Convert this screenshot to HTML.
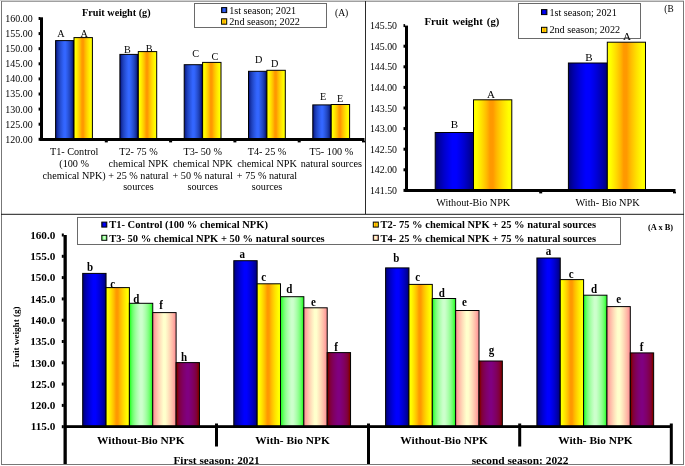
<!DOCTYPE html><html><head><meta charset="utf-8"><style>html,body{margin:0;padding:0;background:#fff;}svg{display:block;will-change:transform;}text{font-family:"Liberation Serif",serif;}</style></head><body>
<svg width="685" height="466" viewBox="0 0 685 466">
<defs><linearGradient id="gAb" x1="0" y1="0" x2="1" y2="0"><stop offset="0.000" stop-color="#081888"/><stop offset="0.030" stop-color="#081888"/><stop offset="0.084" stop-color="#122b9e"/><stop offset="0.138" stop-color="#1a38b0"/><stop offset="0.191" stop-color="#1f43c0"/><stop offset="0.245" stop-color="#244bcf"/><stop offset="0.299" stop-color="#2853dc"/><stop offset="0.353" stop-color="#2c5ae9"/><stop offset="0.406" stop-color="#3060f4"/><stop offset="0.460" stop-color="#3366ff"/><stop offset="0.540" stop-color="#3366ff"/><stop offset="0.594" stop-color="#2f60f2"/><stop offset="0.647" stop-color="#2c59e5"/><stop offset="0.701" stop-color="#2751d6"/><stop offset="0.755" stop-color="#2349c6"/><stop offset="0.809" stop-color="#1d3fb4"/><stop offset="0.863" stop-color="#1633a0"/><stop offset="0.916" stop-color="#0d2387"/><stop offset="0.970" stop-color="#000066"/><stop offset="1.000" stop-color="#000066"/></linearGradient><linearGradient id="gO" x1="0" y1="0" x2="1" y2="0"><stop offset="0.000" stop-color="#ffff00"/><stop offset="0.080" stop-color="#ffff00"/><stop offset="0.124" stop-color="#fff500"/><stop offset="0.167" stop-color="#ffeb00"/><stop offset="0.211" stop-color="#ffe000"/><stop offset="0.255" stop-color="#ffd400"/><stop offset="0.299" stop-color="#ffc700"/><stop offset="0.342" stop-color="#ffba00"/><stop offset="0.386" stop-color="#ffaa00"/><stop offset="0.430" stop-color="#ff9900"/><stop offset="0.510" stop-color="#ff9900"/><stop offset="0.561" stop-color="#ffaa00"/><stop offset="0.613" stop-color="#ffba00"/><stop offset="0.664" stop-color="#ffc700"/><stop offset="0.715" stop-color="#ffd400"/><stop offset="0.766" stop-color="#ffe000"/><stop offset="0.818" stop-color="#ffeb00"/><stop offset="0.869" stop-color="#fff500"/><stop offset="0.920" stop-color="#ffff00"/><stop offset="1.000" stop-color="#ffff00"/></linearGradient><linearGradient id="gB" x1="0" y1="0" x2="1" y2="0"><stop offset="0.000" stop-color="#000080"/><stop offset="0.030" stop-color="#000080"/><stop offset="0.083" stop-color="#000098"/><stop offset="0.135" stop-color="#0000ac"/><stop offset="0.188" stop-color="#0000bd"/><stop offset="0.240" stop-color="#0000cd"/><stop offset="0.292" stop-color="#0000db"/><stop offset="0.345" stop-color="#0000e8"/><stop offset="0.398" stop-color="#0000f4"/><stop offset="0.450" stop-color="#0000ff"/><stop offset="0.550" stop-color="#0000ff"/><stop offset="0.603" stop-color="#0000f4"/><stop offset="0.655" stop-color="#0000e8"/><stop offset="0.708" stop-color="#0000db"/><stop offset="0.760" stop-color="#0000cd"/><stop offset="0.812" stop-color="#0000bd"/><stop offset="0.865" stop-color="#0000ac"/><stop offset="0.917" stop-color="#000098"/><stop offset="0.970" stop-color="#000080"/><stop offset="1.000" stop-color="#000080"/></linearGradient><linearGradient id="gG" x1="0" y1="0" x2="1" y2="0"><stop offset="0.000" stop-color="#33ff33"/><stop offset="0.050" stop-color="#33ff33"/><stop offset="0.101" stop-color="#5bff5b"/><stop offset="0.153" stop-color="#74ff74"/><stop offset="0.204" stop-color="#88ff88"/><stop offset="0.255" stop-color="#99ff99"/><stop offset="0.306" stop-color="#a8ffa8"/><stop offset="0.357" stop-color="#b5ffb5"/><stop offset="0.409" stop-color="#c1ffc1"/><stop offset="0.460" stop-color="#ccffcc"/><stop offset="0.540" stop-color="#ccffcc"/><stop offset="0.591" stop-color="#c1ffc1"/><stop offset="0.643" stop-color="#b5ffb5"/><stop offset="0.694" stop-color="#a8ffa8"/><stop offset="0.745" stop-color="#99ff99"/><stop offset="0.796" stop-color="#88ff88"/><stop offset="0.847" stop-color="#74ff74"/><stop offset="0.899" stop-color="#5bff5b"/><stop offset="0.950" stop-color="#33ff33"/><stop offset="1.000" stop-color="#33ff33"/></linearGradient><linearGradient id="gC" x1="0" y1="0" x2="1" y2="0"><stop offset="0.000" stop-color="#ff9999"/><stop offset="0.050" stop-color="#ff9999"/><stop offset="0.101" stop-color="#ffaaa1"/><stop offset="0.153" stop-color="#ffbaa8"/><stop offset="0.204" stop-color="#ffc7ae"/><stop offset="0.255" stop-color="#ffd4b5"/><stop offset="0.306" stop-color="#ffe0bb"/><stop offset="0.357" stop-color="#ffebc1"/><stop offset="0.409" stop-color="#fff5c7"/><stop offset="0.460" stop-color="#ffffcc"/><stop offset="0.540" stop-color="#ffffcc"/><stop offset="0.591" stop-color="#fff5c7"/><stop offset="0.643" stop-color="#ffebc1"/><stop offset="0.694" stop-color="#ffe0bb"/><stop offset="0.745" stop-color="#ffd4b5"/><stop offset="0.796" stop-color="#ffc7ae"/><stop offset="0.847" stop-color="#ffbaa8"/><stop offset="0.899" stop-color="#ffaaa1"/><stop offset="0.950" stop-color="#ff9999"/><stop offset="1.000" stop-color="#ff9999"/></linearGradient><linearGradient id="gP" x1="0" y1="0" x2="1" y2="0"><stop offset="0.000" stop-color="#800000"/><stop offset="0.050" stop-color="#800000"/><stop offset="0.101" stop-color="#80002e"/><stop offset="0.153" stop-color="#800042"/><stop offset="0.204" stop-color="#800050"/><stop offset="0.255" stop-color="#80005c"/><stop offset="0.306" stop-color="#800067"/><stop offset="0.357" stop-color="#800070"/><stop offset="0.409" stop-color="#800078"/><stop offset="0.460" stop-color="#800080"/><stop offset="0.540" stop-color="#800080"/><stop offset="0.591" stop-color="#800078"/><stop offset="0.643" stop-color="#800070"/><stop offset="0.694" stop-color="#800067"/><stop offset="0.745" stop-color="#80005c"/><stop offset="0.796" stop-color="#800050"/><stop offset="0.847" stop-color="#800042"/><stop offset="0.899" stop-color="#80002e"/><stop offset="0.950" stop-color="#800000"/><stop offset="1.000" stop-color="#800000"/></linearGradient></defs>
<rect x="0" y="0" width="684" height="1" fill="#d0d0d0"/>
<rect x="1" y="1" width="683" height="1" fill="#a0a0a0"/>
<rect x="1" y="1" width="1" height="464" fill="#777"/>
<rect x="683" y="1" width="1" height="464" fill="#777"/>
<rect x="1" y="464" width="683" height="1" fill="#777"/>
<rect x="365" y="1" width="1" height="213" fill="#2a2a2a"/>
<rect x="1" y="213.8" width="683" height="1" fill="#1a1a1a"/>
<rect x="55.6" y="40.6" width="18.4" height="98.9" fill="url(#gAb)" stroke="#000" stroke-width="1"/>
<rect x="74" y="37.6" width="18.4" height="101.9" fill="url(#gO)" stroke="#000" stroke-width="1"/>
<rect x="119.9" y="54.4" width="18.4" height="85.1" fill="url(#gAb)" stroke="#000" stroke-width="1"/>
<rect x="138.3" y="51.6" width="18.4" height="87.9" fill="url(#gO)" stroke="#000" stroke-width="1"/>
<rect x="184.2" y="64.7" width="18.4" height="74.8" fill="url(#gAb)" stroke="#000" stroke-width="1"/>
<rect x="202.6" y="62.4" width="18.4" height="77.1" fill="url(#gO)" stroke="#000" stroke-width="1"/>
<rect x="248.5" y="71.3" width="18.4" height="68.2" fill="url(#gAb)" stroke="#000" stroke-width="1"/>
<rect x="266.9" y="70.3" width="18.4" height="69.2" fill="url(#gO)" stroke="#000" stroke-width="1"/>
<rect x="312.8" y="104.9" width="18.4" height="34.6" fill="url(#gAb)" stroke="#000" stroke-width="1"/>
<rect x="331.2" y="104.5" width="18.4" height="35" fill="url(#gO)" stroke="#000" stroke-width="1"/>
<rect x="40" y="17.3" width="3" height="123.7" fill="#000"/>
<rect x="40" y="138" width="324.5" height="3" fill="#000"/>
<rect x="38.6" y="137.8" width="1.6" height="3" fill="#000"/>
<text x="32.7" y="142.7" font-size="9.95" text-anchor="end">120.00</text>
<rect x="38.6" y="122.7" width="1.6" height="3" fill="#000"/>
<text x="32.7" y="127.6" font-size="9.95" text-anchor="end">125.00</text>
<rect x="38.6" y="107.6" width="1.6" height="3" fill="#000"/>
<text x="32.7" y="112.5" font-size="9.95" text-anchor="end">130.00</text>
<rect x="38.6" y="92.5" width="1.6" height="3" fill="#000"/>
<text x="32.7" y="97.4" font-size="9.95" text-anchor="end">135.00</text>
<rect x="38.6" y="77.4" width="1.6" height="3" fill="#000"/>
<text x="32.7" y="82.3" font-size="9.95" text-anchor="end">140.00</text>
<rect x="38.6" y="62.3" width="1.6" height="3" fill="#000"/>
<text x="32.7" y="67.2" font-size="9.95" text-anchor="end">145.00</text>
<rect x="38.6" y="47.2" width="1.6" height="3" fill="#000"/>
<text x="32.7" y="52.1" font-size="9.95" text-anchor="end">150.00</text>
<rect x="38.6" y="32.1" width="1.6" height="3" fill="#000"/>
<text x="32.7" y="37" font-size="9.95" text-anchor="end">155.00</text>
<rect x="38.6" y="17" width="1.6" height="3" fill="#000"/>
<text x="32.7" y="21.9" font-size="9.95" text-anchor="end">160.00</text>
<rect x="104.8" y="140.8" width="3" height="1.6" fill="#000"/>
<rect x="169.1" y="140.8" width="3" height="1.6" fill="#000"/>
<rect x="233.4" y="140.8" width="3" height="1.6" fill="#000"/>
<rect x="297.7" y="140.8" width="3" height="1.6" fill="#000"/>
<rect x="362" y="140.8" width="3" height="1.6" fill="#000"/>
<text x="60.9" y="36.8" font-size="10.2" text-anchor="middle">A</text>
<text x="84.3" y="36.8" font-size="10.2" text-anchor="middle">A</text>
<text x="127.4" y="52.5" font-size="10.2" text-anchor="middle">B</text>
<text x="149.1" y="51.6" font-size="10.2" text-anchor="middle">B</text>
<text x="195.6" y="57.2" font-size="10.2" text-anchor="middle">C</text>
<text x="214.8" y="60" font-size="10.2" text-anchor="middle">C</text>
<text x="258.7" y="62.7" font-size="10.2" text-anchor="middle">D</text>
<text x="274.8" y="66.8" font-size="10.2" text-anchor="middle">D</text>
<text x="323" y="100.1" font-size="10.2" text-anchor="middle">E</text>
<text x="340" y="102.1" font-size="10.2" text-anchor="middle">E</text>
<text x="74.15" y="155.3" font-size="10.2" text-anchor="middle">T1- Control</text>
<text x="74.15" y="166.9" font-size="10.2" text-anchor="middle">(100 %</text>
<text x="74.15" y="178.5" font-size="10.2" text-anchor="middle">chemical NPK)</text>
<text x="138.45" y="155.3" font-size="10.2" text-anchor="middle">T2- 75 %</text>
<text x="138.45" y="166.9" font-size="10.2" text-anchor="middle">chemical NPK</text>
<text x="138.45" y="178.5" font-size="10.2" text-anchor="middle">+ 25 % natural</text>
<text x="138.45" y="190.1" font-size="10.2" text-anchor="middle">sources</text>
<text x="202.75" y="155.3" font-size="10.2" text-anchor="middle">T3- 50 %</text>
<text x="202.75" y="166.9" font-size="10.2" text-anchor="middle">chemical NPK</text>
<text x="202.75" y="178.5" font-size="10.2" text-anchor="middle">+ 50 % natural</text>
<text x="202.75" y="190.1" font-size="10.2" text-anchor="middle">sources</text>
<text x="267.05" y="155.3" font-size="10.2" text-anchor="middle">T4- 25 %</text>
<text x="267.05" y="166.9" font-size="10.2" text-anchor="middle">chemical NPK</text>
<text x="267.05" y="178.5" font-size="10.2" text-anchor="middle">+ 75 % natural</text>
<text x="267.05" y="190.1" font-size="10.2" text-anchor="middle">sources</text>
<text x="331.35" y="155.3" font-size="10.2" text-anchor="middle">T5- 100 %</text>
<text x="331.35" y="166.9" font-size="10.2" text-anchor="middle">natural sources</text>
<text x="82.1" y="16.3" font-size="10.2" font-weight="bold">Fruit weight (g)</text>
<rect x="194.5" y="3.5" width="132" height="24" fill="#fff" stroke="#6a6a6a" stroke-width="1"/>
<rect x="221.6" y="7.6" width="5.1" height="5" fill="url(#gAb)" stroke="#000" stroke-width="1"/>
<rect x="221.6" y="18.8" width="5.1" height="5.4" fill="url(#gO)" stroke="#000" stroke-width="1"/>
<text x="229.2" y="13.8" font-size="10.15">1st season; 2021</text>
<text x="229.2" y="25" font-size="10.2">2nd season; 2022</text>
<text x="335" y="16" font-size="9.6">(A)</text>
<rect x="435.2" y="132.5" width="38.3" height="58" fill="url(#gB)" stroke="#000" stroke-width="1"/>
<rect x="473.5" y="99.8" width="38.3" height="90.7" fill="url(#gO)" stroke="#000" stroke-width="1"/>
<rect x="568.4" y="63" width="38.9" height="127.5" fill="url(#gB)" stroke="#000" stroke-width="1"/>
<rect x="607.3" y="42.2" width="38.2" height="148.3" fill="url(#gO)" stroke="#000" stroke-width="1"/>
<rect x="405" y="25.6" width="3" height="166.4" fill="#000"/>
<rect x="405" y="189" width="270.5" height="3" fill="#000"/>
<rect x="403.5" y="188.9" width="1.6" height="3" fill="#000"/>
<text x="397" y="193.9" font-size="9.85" text-anchor="end">141.50</text>
<rect x="403.5" y="168.3" width="1.6" height="3" fill="#000"/>
<text x="397" y="173.3" font-size="9.85" text-anchor="end">142.00</text>
<rect x="403.5" y="147.7" width="1.6" height="3" fill="#000"/>
<text x="397" y="152.7" font-size="9.85" text-anchor="end">142.50</text>
<rect x="403.5" y="127.1" width="1.6" height="3" fill="#000"/>
<text x="397" y="132.1" font-size="9.85" text-anchor="end">143.00</text>
<rect x="403.5" y="106.5" width="1.6" height="3" fill="#000"/>
<text x="397" y="111.5" font-size="9.85" text-anchor="end">143.50</text>
<rect x="403.5" y="85.9" width="1.6" height="3" fill="#000"/>
<text x="397" y="90.9" font-size="9.85" text-anchor="end">144.00</text>
<rect x="403.5" y="65.3" width="1.6" height="3" fill="#000"/>
<text x="397" y="70.3" font-size="9.85" text-anchor="end">144.50</text>
<rect x="403.5" y="44.7" width="1.6" height="3" fill="#000"/>
<text x="397" y="49.7" font-size="9.85" text-anchor="end">145.00</text>
<rect x="403.5" y="24.1" width="1.6" height="3" fill="#000"/>
<text x="397" y="29.1" font-size="9.85" text-anchor="end">145.50</text>
<rect x="539.2" y="191.8" width="3" height="1.6" fill="#000"/>
<rect x="673" y="191.8" width="3" height="1.6" fill="#000"/>
<text x="424.5" y="24.5" font-size="10.7" font-weight="bold" word-spacing="1.5">Fruit weight (g)</text>
<rect x="518.5" y="3.5" width="122" height="35" fill="#fff" stroke="#6a6a6a" stroke-width="1"/>
<rect x="541.5" y="9.6" width="5.4" height="5" fill="url(#gB)" stroke="#000" stroke-width="1"/>
<rect x="541.5" y="27.3" width="5.4" height="5.3" fill="url(#gO)" stroke="#000" stroke-width="1"/>
<text x="549.4" y="16" font-size="10.2">1st season; 2021</text>
<text x="549.4" y="33.4" font-size="10.2">2nd season; 2022</text>
<text x="664.3" y="11.9" font-size="9.3">(B</text>
<text x="454.3" y="128.4" font-size="11" text-anchor="middle">B</text>
<text x="491" y="97.5" font-size="11" text-anchor="middle">A</text>
<text x="589" y="60.7" font-size="11" text-anchor="middle">B</text>
<text x="627" y="40.2" font-size="11" text-anchor="middle">A</text>
<text x="473.2" y="206" font-size="10.2" text-anchor="middle">Without-Bio NPK</text>
<text x="607.6" y="205.9" font-size="10.3" text-anchor="middle">With- Bio NPK</text>
<rect x="82.7" y="273.4" width="23.35" height="153.1" fill="url(#gB)" stroke="#000" stroke-width="1"/>
<rect x="106.05" y="287.6" width="23.35" height="138.9" fill="url(#gO)" stroke="#000" stroke-width="1"/>
<rect x="129.4" y="303.3" width="23.35" height="123.2" fill="url(#gG)" stroke="#000" stroke-width="1"/>
<rect x="152.75" y="312.6" width="23.35" height="113.9" fill="url(#gC)" stroke="#000" stroke-width="1"/>
<rect x="176.1" y="362.6" width="23.35" height="63.9" fill="url(#gP)" stroke="#000" stroke-width="1"/>
<rect x="233.8" y="260.7" width="23.35" height="165.8" fill="url(#gB)" stroke="#000" stroke-width="1"/>
<rect x="257.15" y="283.8" width="23.35" height="142.7" fill="url(#gO)" stroke="#000" stroke-width="1"/>
<rect x="280.5" y="296.7" width="23.35" height="129.8" fill="url(#gG)" stroke="#000" stroke-width="1"/>
<rect x="303.85" y="307.8" width="23.35" height="118.7" fill="url(#gC)" stroke="#000" stroke-width="1"/>
<rect x="327.2" y="352.6" width="23.35" height="73.9" fill="url(#gP)" stroke="#000" stroke-width="1"/>
<rect x="385.6" y="267.9" width="23.35" height="158.6" fill="url(#gB)" stroke="#000" stroke-width="1"/>
<rect x="408.95" y="284.4" width="23.35" height="142.1" fill="url(#gO)" stroke="#000" stroke-width="1"/>
<rect x="432.3" y="298.5" width="23.35" height="128" fill="url(#gG)" stroke="#000" stroke-width="1"/>
<rect x="455.65" y="310.5" width="23.35" height="116" fill="url(#gC)" stroke="#000" stroke-width="1"/>
<rect x="479" y="361" width="23.35" height="65.5" fill="url(#gP)" stroke="#000" stroke-width="1"/>
<rect x="536.9" y="258" width="23.35" height="168.5" fill="url(#gB)" stroke="#000" stroke-width="1"/>
<rect x="560.25" y="279.6" width="23.35" height="146.9" fill="url(#gO)" stroke="#000" stroke-width="1"/>
<rect x="583.6" y="295.2" width="23.35" height="131.3" fill="url(#gG)" stroke="#000" stroke-width="1"/>
<rect x="606.95" y="306.6" width="23.35" height="119.9" fill="url(#gC)" stroke="#000" stroke-width="1"/>
<rect x="630.3" y="352.9" width="23.35" height="73.6" fill="url(#gP)" stroke="#000" stroke-width="1"/>
<text transform="translate(90.1,270.9) scale(1,1.05)" font-size="11" font-weight="bold" text-anchor="middle">b</text>
<text transform="translate(112.6,287.5) scale(1,1.22)" font-size="11" font-weight="bold" text-anchor="middle">c</text>
<text transform="translate(136.2,302.6) scale(1,1.05)" font-size="11" font-weight="bold" text-anchor="middle">d</text>
<text transform="translate(161.2,309) scale(1,1.05)" font-size="11" font-weight="bold" text-anchor="middle">f</text>
<text transform="translate(184.1,360.7) scale(1,1.05)" font-size="11" font-weight="bold" text-anchor="middle">h</text>
<text transform="translate(242.3,258.1) scale(1,1.22)" font-size="11" font-weight="bold" text-anchor="middle">a</text>
<text transform="translate(263.8,280.9) scale(1,1.22)" font-size="11" font-weight="bold" text-anchor="middle">c</text>
<text transform="translate(289.2,292.7) scale(1,1.05)" font-size="11" font-weight="bold" text-anchor="middle">d</text>
<text transform="translate(313.5,306.3) scale(1,1.22)" font-size="11" font-weight="bold" text-anchor="middle">e</text>
<text transform="translate(336.1,351) scale(1,1.05)" font-size="11" font-weight="bold" text-anchor="middle">f</text>
<text transform="translate(396.3,262.3) scale(1,1.05)" font-size="11" font-weight="bold" text-anchor="middle">b</text>
<text transform="translate(417.7,281.2) scale(1,1.22)" font-size="11" font-weight="bold" text-anchor="middle">c</text>
<text transform="translate(441.8,297) scale(1,1.05)" font-size="11" font-weight="bold" text-anchor="middle">d</text>
<text transform="translate(464.4,306.3) scale(1,1.22)" font-size="11" font-weight="bold" text-anchor="middle">e</text>
<text transform="translate(491.5,354.4) scale(1,1.22)" font-size="11" font-weight="bold" text-anchor="middle">g</text>
<text transform="translate(548.6,255.4) scale(1,1.22)" font-size="11" font-weight="bold" text-anchor="middle">a</text>
<text transform="translate(571.1,277.7) scale(1,1.22)" font-size="11" font-weight="bold" text-anchor="middle">c</text>
<text transform="translate(594,292.6) scale(1,1.05)" font-size="11" font-weight="bold" text-anchor="middle">d</text>
<text transform="translate(618.6,302.5) scale(1,1.22)" font-size="11" font-weight="bold" text-anchor="middle">e</text>
<text transform="translate(641.6,350.9) scale(1,1.05)" font-size="11" font-weight="bold" text-anchor="middle">f</text>
<rect x="63.5" y="235" width="3.3" height="231" fill="#000"/>
<rect x="64" y="425.2" width="608" height="2.8" fill="#000"/>
<rect x="215" y="423.5" width="3" height="23" fill="#000"/>
<rect x="367" y="423.5" width="3" height="44" fill="#000"/>
<rect x="518.2" y="423.5" width="3" height="23" fill="#000"/>
<rect x="669.8" y="423.5" width="3" height="44" fill="#000"/>
<rect x="61.8" y="425.2" width="2" height="3" fill="#000"/>
<text x="55.3" y="430.4" font-size="11.2" font-weight="bold" text-anchor="end">115.0</text>
<rect x="61.8" y="403.9" width="2" height="3" fill="#000"/>
<text x="55.3" y="409.1" font-size="11.2" font-weight="bold" text-anchor="end">120.0</text>
<rect x="61.8" y="382.6" width="2" height="3" fill="#000"/>
<text x="55.3" y="387.8" font-size="11.2" font-weight="bold" text-anchor="end">125.0</text>
<rect x="61.8" y="361.3" width="2" height="3" fill="#000"/>
<text x="55.3" y="366.5" font-size="11.2" font-weight="bold" text-anchor="end">130.0</text>
<rect x="61.8" y="340" width="2" height="3" fill="#000"/>
<text x="55.3" y="345.2" font-size="11.2" font-weight="bold" text-anchor="end">135.0</text>
<rect x="61.8" y="318.7" width="2" height="3" fill="#000"/>
<text x="55.3" y="323.9" font-size="11.2" font-weight="bold" text-anchor="end">140.0</text>
<rect x="61.8" y="297.4" width="2" height="3" fill="#000"/>
<text x="55.3" y="302.6" font-size="11.2" font-weight="bold" text-anchor="end">145.0</text>
<rect x="61.8" y="276.1" width="2" height="3" fill="#000"/>
<text x="55.3" y="281.3" font-size="11.2" font-weight="bold" text-anchor="end">150.0</text>
<rect x="61.8" y="254.8" width="2" height="3" fill="#000"/>
<text x="55.3" y="260" font-size="11.2" font-weight="bold" text-anchor="end">155.0</text>
<rect x="61.8" y="233.5" width="2" height="3" fill="#000"/>
<text x="55.3" y="238.7" font-size="11.2" font-weight="bold" text-anchor="end">160.0</text>
<rect x="77.5" y="217.5" width="543" height="27" fill="#fff" stroke="#6a6a6a" stroke-width="1"/>
<rect x="101.8" y="222.1" width="5" height="5" fill="url(#gB)" stroke="#000" stroke-width="1"/>
<rect x="101.8" y="235.3" width="5" height="5" fill="url(#gG)" stroke="#000" stroke-width="1"/>
<rect x="373.3" y="222.1" width="5" height="5" fill="url(#gO)" stroke="#000" stroke-width="1"/>
<rect x="373.3" y="235.3" width="5" height="5" fill="url(#gC)" stroke="#000" stroke-width="1"/>
<text x="109.2" y="228.1" font-size="10.5" font-weight="bold">T1- Control (100 % chemical NPK)</text>
<text x="109.2" y="241.6" font-size="10.5" font-weight="bold">T3- 50 % chemical NPK + 50 % natural sources</text>
<text x="380.6" y="228.1" font-size="10.5" font-weight="bold">T2- 75 % chemical NPK + 25 % natural sources</text>
<text x="380.6" y="241.6" font-size="10.5" font-weight="bold">T4- 25 % chemical NPK + 75 % natural sources</text>
<text x="648" y="230.2" font-size="8.4" font-weight="bold">(A x B)</text>
<text transform="translate(19.4,337) rotate(-90)" font-size="9.1" font-weight="bold" text-anchor="middle">Fruit weight (g)</text>
<text x="140.8" y="444.4" font-size="11.4" font-weight="bold" text-anchor="middle">Without-Bio NPK</text>
<text x="292.6" y="444.4" font-size="11.4" font-weight="bold" text-anchor="middle">With- Bio NPK</text>
<text x="444.1" y="444.4" font-size="11.4" font-weight="bold" text-anchor="middle">Without-Bio NPK</text>
<text x="595.5" y="444.4" font-size="11.4" font-weight="bold" text-anchor="middle">With- Bio NPK</text>
<text x="216.6" y="464.2" font-size="11.25" font-weight="bold" text-anchor="middle">First season: 2021</text>
<text x="520.1" y="464.2" font-size="11.4" font-weight="bold" text-anchor="middle">second season: 2022</text>
<rect x="1" y="464" width="683" height="1" fill="#777"/>
<rect x="0" y="465" width="685" height="1" fill="#fff"/>
</svg></body></html>
